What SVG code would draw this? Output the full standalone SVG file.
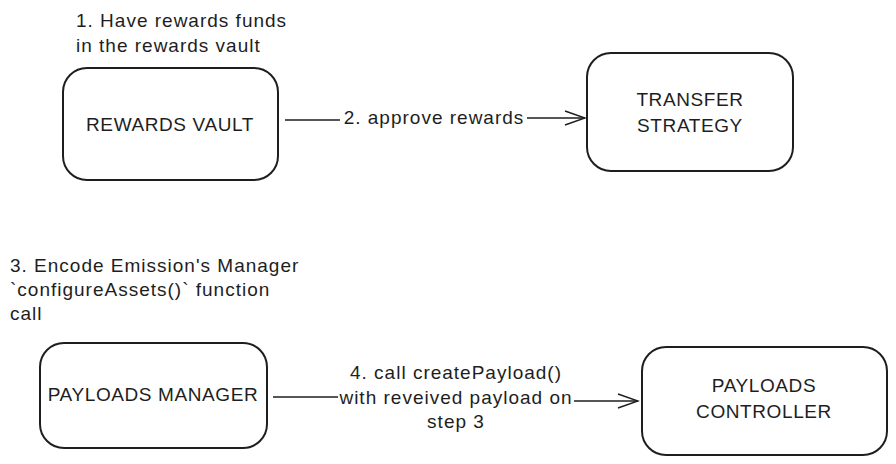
<svg xmlns="http://www.w3.org/2000/svg" width="896" height="464" viewBox="0 0 896 464">
<style>
.box{fill:#fff;stroke:#1e1e1e;stroke-width:2}
.t{font-family:"Liberation Sans",Arial,sans-serif;font-size:19px;letter-spacing:1px;fill:#1e1e1e}
.b{letter-spacing:0.6px}
.c{text-anchor:middle}
.ln{fill:none;stroke:#1e1e1e;stroke-width:1.5}
</style>
<defs>
<marker id="ah" markerWidth="24" markerHeight="16" refX="22" refY="8" orient="auto" markerUnits="userSpaceOnUse">
<path d="M2,1 L22,8 L2,15" fill="none" stroke="#1e1e1e" stroke-width="1.5"/>
</marker>
</defs>
<rect width="896" height="464" fill="#fff"/>
<g id="note1">
<text class="t" x="76" y="27">1. Have rewards funds</text>
<text class="t" x="76" y="52">in the rewards vault</text>
</g>
<g id="note3">
<text class="t" x="10" y="272">3. Encode Emission's Manager</text>
<text class="t" x="10" y="296">`configureAssets()` function</text>
<text class="t" x="10" y="320">call</text>
</g>
<g id="connectors">
<g id="edge1">
<path class="ln" d="M285,120 L340,120"/>
<path class="ln" d="M527,118 L585,118" marker-end="url(#ah)"/>
<text class="t c" x="434" y="124">2. approve rewards</text>
</g>
<g id="edge2">
<path class="ln" d="M273,397 L338,397"/>
<path class="ln" d="M574,401 L638,401" marker-end="url(#ah)"/>
<text class="t c" x="456" y="379">4. call createPayload()</text>
<text class="t c" x="456" y="404">with reveived payload on</text>
<text class="t c" x="456" y="428">step 3</text>
</g>
</g>
<g id="rewards-vault">
<rect class="box" x="63" y="68" width="215" height="112" rx="24"/>
<text class="t b c" x="170" y="131">REWARDS VAULT</text>
</g>
<g id="transfer-strategy">
<rect class="box" x="587" y="53" width="206" height="118" rx="24"/>
<text class="t b c" x="690" y="106">TRANSFER</text>
<text class="t b c" x="690" y="132">STRATEGY</text>
</g>
<g id="payloads-manager">
<rect class="box" x="40" y="343" width="227" height="105" rx="24"/>
<text class="t b c" x="153" y="401">PAYLOADS MANAGER</text>
</g>
<g id="payloads-controller">
<rect class="box" x="642" y="347" width="245" height="108" rx="24"/>
<text class="t b c" x="764" y="392">PAYLOADS</text>
<text class="t b c" x="764" y="418">CONTROLLER</text>
</g>
</svg>
